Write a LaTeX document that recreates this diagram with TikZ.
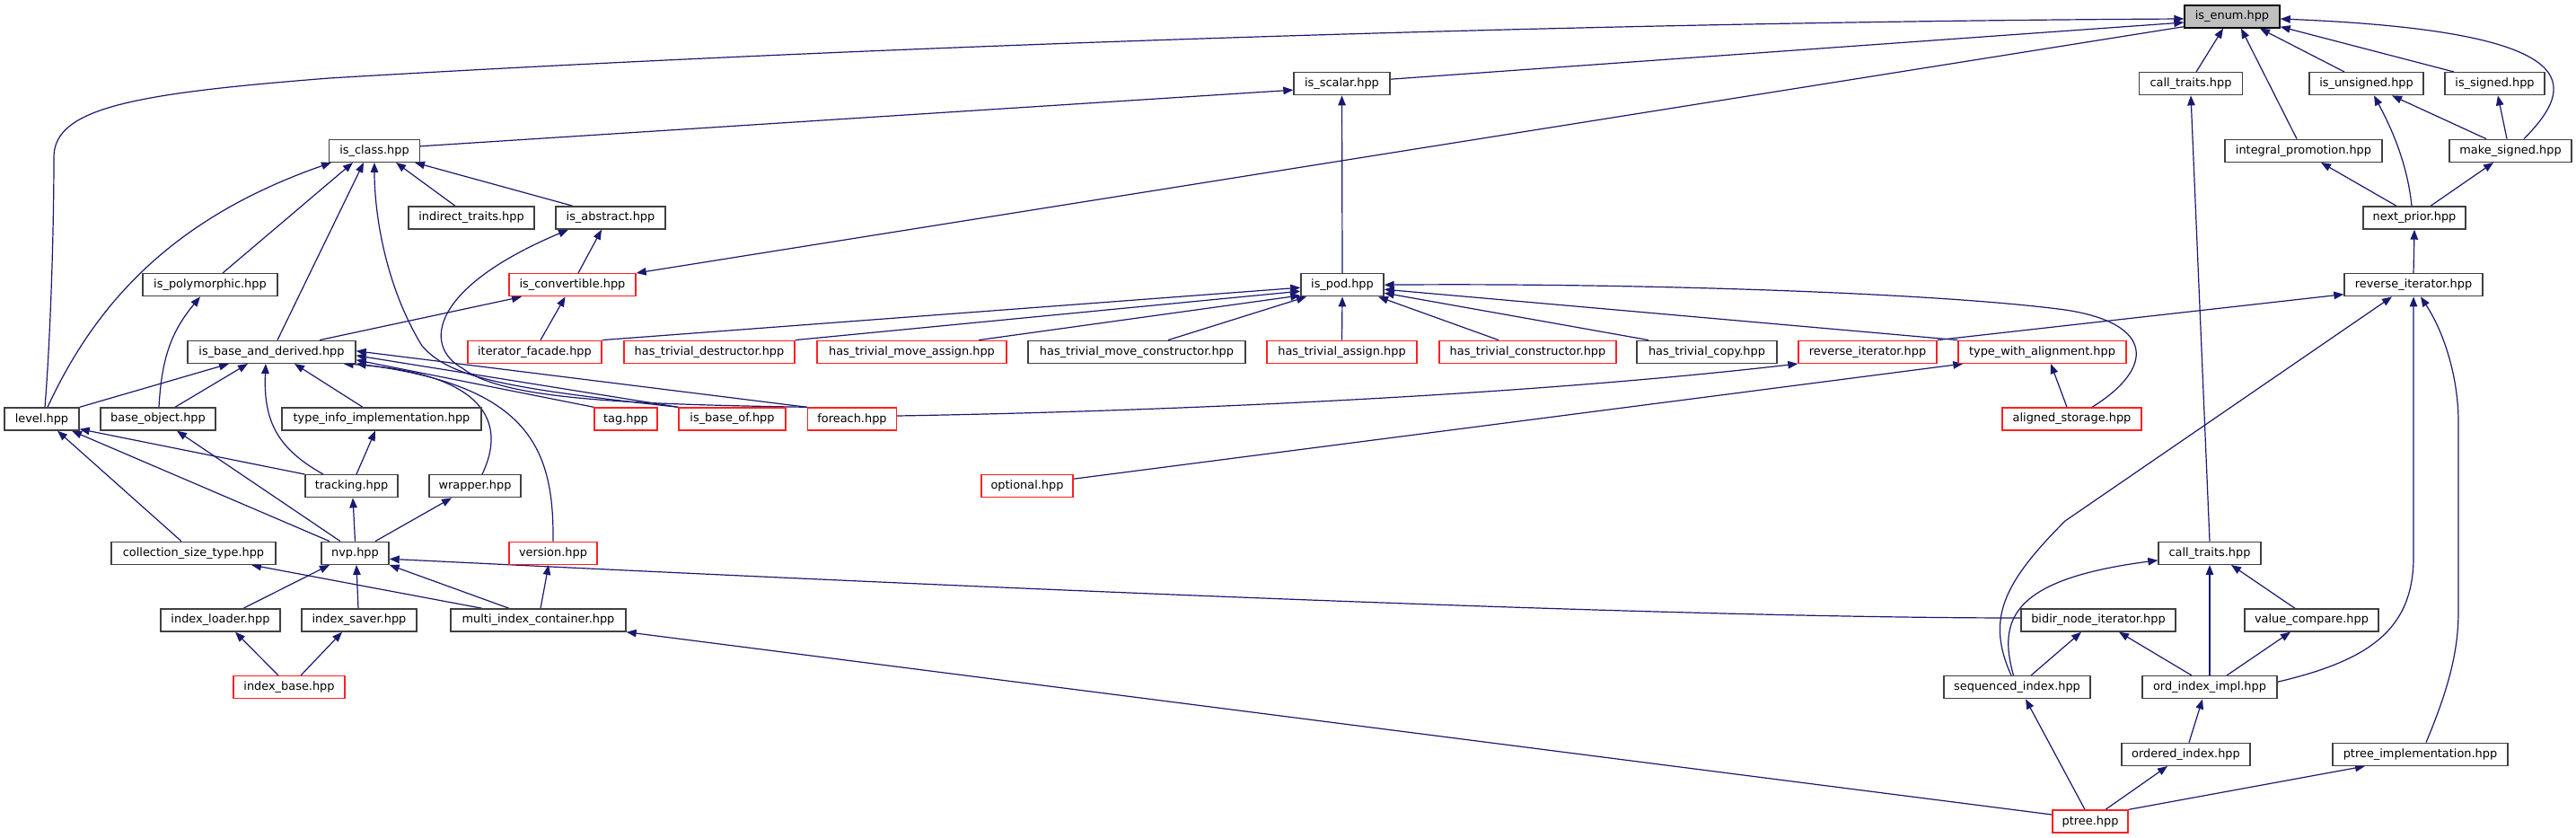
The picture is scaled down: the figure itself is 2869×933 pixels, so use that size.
\documentclass[tikz,border=0pt]{standalone}
\usepackage{fontspec}
\setmainfont{DejaVu Sans}
\usetikzlibrary{arrows.meta}
\definecolor{edgeblue}{HTML}{191970}
\definecolor{greyA}{HTML}{404040}
\definecolor{greyB}{HTML}{BFBFBF}
\definecolor{redbd}{HTML}{FF2020}
\pgfdeclarelayer{bg}
\pgfsetlayers{bg,main}
\tikzset{
  box/.style={draw=greyA, line width=1.4pt, fill=white, minimum height=25pt, inner sep=0pt,
              font=\fontsize{12.9}{15}\selectfont, anchor=center},
  rbox/.style={box, draw=redbd},
  arr/.style={draw=edgeblue, line width=1.2pt, -{Triangle[length=11pt,width=8.5pt]}}
}
\begin{document}
\begin{tikzpicture}[x=1pt,y=-1pt]
\useasboundingbox (0,0) rectangle (2869,933);
% rows
\node[box,minimum width=106pt,fill=greyB,draw=black] (isenum) at (2486,18.5) {is\_enum.hpp};
\node[box,minimum width=107pt] (isscalar) at (1494.5,93.2) {is\_scalar.hpp};
\node[box,minimum width=115pt] (calltraitsA) at (2440,93.2) {call\_traits.hpp};
\node[box,minimum width=127pt] (isunsigned) at (2635.5,93.2) {is\_unsigned.hpp};
\node[box,minimum width=111pt] (issigned) at (2778.5,93.2) {is\_signed.hpp};
\node[box,minimum width=101pt] (isclass) at (417,167.8) {is\_class.hpp};
\node[box,minimum width=175pt] (integralpromotion) at (2565.5,167.8) {integral\_promotion.hpp};
\node[box,minimum width=136pt] (makesigned) at (2796,167.8) {make\_signed.hpp};
\node[box,minimum width=140pt] (indirecttraits) at (525,242.5) {indirect\_traits.hpp};
\node[box,minimum width=122pt] (isabstract) at (680,242.5) {is\_abstract.hpp};
\node[box,minimum width=114pt] (nextprior) at (2689,242.5) {next\_prior.hpp};
\node[box,minimum width=150pt] (ispolymorphic) at (234,317.2) {is\_polymorphic.hpp};
\node[rbox,minimum width=141pt] (isconvertible) at (637.5,317.2) {is\_convertible.hpp};
\node[box,minimum width=92pt] (ispod) at (1495,317.2) {is\_pod.hpp};
\node[box,minimum width=154pt] (reviterB) at (2688,317.2) {reverse\_iterator.hpp};
\node[box,minimum width=187pt] (ibd) at (302.5,391.8) {is\_base\_and\_derived.hpp};
\node[rbox,minimum width=149pt] (iteratorfacade) at (595.5,391.8) {iterator\_facade.hpp};
\node[rbox,minimum width=190pt] (htdestructor) at (790,391.8) {has\_trivial\_destructor.hpp};
\node[rbox,minimum width=211pt] (htmoveassign) at (1015.5,391.8) {has\_trivial\_move\_assign.hpp};
\node[box,minimum width=242pt] (htmoveconstructor) at (1266,391.8) {has\_trivial\_move\_constructor.hpp};
\node[rbox,minimum width=167pt] (htassign) at (1494.5,391.8) {has\_trivial\_assign.hpp};
\node[rbox,minimum width=197pt] (htconstructor) at (1701.5,391.8) {has\_trivial\_constructor.hpp};
\node[box,minimum width=156pt] (htcopy) at (1901,391.8) {has\_trivial\_copy.hpp};
\node[rbox,minimum width=154pt] (reviterR) at (2080,391.8) {reverse\_iterator.hpp};
\node[rbox,minimum width=187pt] (typewithalignment) at (2274.5,391.8) {type\_with\_alignment.hpp};
\node[box,minimum width=83pt] (level) at (46.5,466.5) {level.hpp};
\node[box,minimum width=128pt] (baseobject) at (176,466.5) {base\_object.hpp};
\node[box,minimum width=222pt] (typeinfoimpl) at (425,466.5) {type\_info\_implementation.hpp};
\node[rbox,minimum width=70pt] (tag) at (697,466.5) {tag.hpp};
\node[rbox,minimum width=119pt] (isbaseof) at (815.5,466.5) {is\_base\_of.hpp};
\node[rbox,minimum width=99pt] (foreach) at (949,466.5) {foreach.hpp};
\node[rbox,minimum width=155pt] (alignedstorage) at (2307.5,466.5) {aligned\_storage.hpp};
\node[box,minimum width=103pt] (tracking) at (391.5,541.2) {tracking.hpp};
\node[box,minimum width=102pt] (wrapper) at (529,541.2) {wrapper.hpp};
\node[rbox,minimum width=102pt] (optional) at (1144,541.2) {optional.hpp};
\node[box,minimum width=183pt] (colsizetype) at (215.5,615.8) {collection\_size\_type.hpp};
\node[box,minimum width=75pt] (nvp) at (395.5,615.8) {nvp.hpp};
\node[rbox,minimum width=98pt] (version) at (616,615.8) {version.hpp};
\node[box,minimum width=114pt] (calltraitsB) at (2461,615.8) {call\_traits.hpp};
\node[box,minimum width=133pt] (indexloader) at (245.5,690.5) {index\_loader.hpp};
\node[box,minimum width=128pt] (indexsaver) at (400,690.5) {index\_saver.hpp};
\node[box,minimum width=195pt] (mic) at (599.5,690.5) {multi\_index\_container.hpp};
\node[box,minimum width=172pt] (bidir) at (2337,690.5) {bidir\_node\_iterator.hpp};
\node[box,minimum width=149pt] (valuecompare) at (2574.5,690.5) {value\_compare.hpp};
\node[rbox,minimum width=124pt] (indexbase) at (322,765.2) {index\_base.hpp};
\node[box,minimum width=163pt] (seqindex) at (2246.5,765.2) {sequenced\_index.hpp};
\node[box,minimum width=150pt] (ordindeximpl) at (2461,765.2) {ord\_index\_impl.hpp};
\node[box,minimum width=143pt] (orderedindex) at (2434.5,839.8) {ordered\_index.hpp};
\node[box,minimum width=195pt] (ptreeimpl) at (2695.5,839.8) {ptree\_implementation.hpp};
\node[rbox,minimum width=84pt] (ptree) at (2328,914.5) {ptree.hpp};

\begin{pgfonlayer}{bg}
\fill[white] (0,0) rectangle (2869,933);
% into is_enum
\draw[arr] ([xshift=3.5pt]level.north) .. controls (56,380) and (60,260) .. (60,175) .. controls (60,120) and (150,104) .. (367,87) .. controls (900,55) and (1700,25) .. ([yshift=-2.5pt]isenum.west);
\draw[arr] ([yshift=5pt]isscalar.east) -- ([yshift=-6.5pt]isenum.west);
\draw[arr] ([yshift=2pt]isenum.south west) -- (isconvertible.north east);
\draw[arr] ([xshift=6pt]calltraitsA.north) -- ([xshift=-10pt]isenum.south);
\draw[arr] ([xshift=-7.5pt]integralpromotion.north) -- ([xshift=10pt]isenum.south);
\draw[arr] ([xshift=-24.5pt]isunsigned.north) -- ([xshift=31pt]isenum.south);
\draw[arr] ([xshift=-45.5pt]issigned.north) -- ([yshift=2pt]isenum.south east);
\draw[arr] ([xshift=15pt]makesigned.north) .. controls (2870,95) and (2885,35) .. ([yshift=-2.5pt]isenum.east);
% right upper
\draw[arr] ([xshift=-27pt]makesigned.north) -- ([xshift=28.5pt]isunsigned.south);
\draw[arr] ([xshift=-3pt]nextprior.north) .. controls (2681,180) and (2662,140) .. ([xshift=8.5pt]isunsigned.south);
\draw[arr] ([xshift=-4pt]makesigned.north) -- ([xshift=3.5pt]issigned.south);
\draw[arr] ([xshift=-20pt]nextprior.north) -- ([xshift=19.5pt]integralpromotion.south);
\draw[arr] ([xshift=18pt]nextprior.north) -- ([xshift=-19pt]makesigned.south);
\draw[arr] (reviterB.north) -- (nextprior.south);
\draw[arr] (calltraitsB.north) -- (calltraitsA.south);
% is_scalar
\draw[arr] ([yshift=5pt]isclass.east) -- ([yshift=-7pt]isscalar.west);
\draw[arr] (ispod.north) -- (isscalar.south);
% is_class
\draw[arr] ([xshift=6.5pt]level.north) .. controls (110,330) and (200,240) .. ([xshift=-48pt]isclass.south);
\draw[arr] ([xshift=14pt]ispolymorphic.north) -- ([xshift=-24pt]isclass.south);
\draw[arr] ([xshift=6.5pt]ibd.north) -- ([xshift=-12pt]isclass.south);
\draw[arr] (isbaseof.north west) .. controls (560,432) and (500,420) .. (470,385) .. controls (430,320) and (417,240) .. (isclass.south);
\draw[arr] ([xshift=-18pt]indirecttraits.north) -- ([xshift=24pt]isclass.south);
\draw[arr] ([xshift=-42pt]isabstract.north) -- ([xshift=45pt]isclass.south);
% is_abstract
\draw[arr] ([xshift=6.5pt]isconvertible.north) -- ([xshift=-10pt]isabstract.south);
\draw[arr] (foreach.north west) .. controls (700,450) and (560,445) .. (515,410) .. controls (470,385) and (480,320) .. ([xshift=-47pt]isabstract.south);
% is_convertible
\draw[arr] ([xshift=53.5pt]ibd.north) -- ([xshift=-56.5pt]isconvertible.south);
\draw[arr] ([xshift=6.5pt]iteratorfacade.north) -- ([xshift=-8pt]isconvertible.south);
% is_pod
\draw[arr] (iteratorfacade.north east) -- ([yshift=-3pt]ispod.west);
\draw[arr] (htdestructor.north east) -- ([yshift=-7pt]ispod.west);
\draw[arr] ([xshift=74.5pt]htmoveassign.north) -- ([yshift=1.5pt]ispod.south west);
\draw[arr] ([xshift=35pt]htmoveconstructor.north) -- ([xshift=-40pt]ispod.south);
\draw[arr] (htassign.north) -- (ispod.south);
\draw[arr] ([xshift=-32.5pt]htconstructor.north) -- ([xshift=40pt]ispod.south);
\draw[arr] ([xshift=-65pt]htcopy.north) -- ([yshift=-9pt]ispod.east);
\draw[arr] (typewithalignment.north west) -- ([yshift=-5pt]ispod.east);
\draw[arr] ([xshift=22.5pt]alignedstorage.north) .. controls (2400,410) and (2400,360) .. (2300,345) .. controls (2150,325) and (1800,315) .. (ispod.east);
% reverse iterators, type_with_alignment
\draw[arr] (reviterR.north east) -- ([yshift=-10.5pt]reviterB.west);
\draw[arr] ([yshift=8pt]optional.east) -- ([xshift=6pt]typewithalignment.south west);
\draw[arr] ([xshift=-5.5pt]alignedstorage.north) -- ([xshift=9.5pt]typewithalignment.south);
\draw[arr] ([yshift=3.5pt]foreach.east) .. controls (1300,458) and (1700,440) .. (reviterR.south west);
% is_base_and_derived
\draw[arr] (level.north east) -- ([xshift=-47.5pt]ibd.south);
\draw[arr] ([xshift=19pt]baseobject.north) -- ([xshift=-26.5pt]ibd.south);
\draw[arr] ([xshift=-31.5pt]tracking.north) .. controls (310,500) and (293,470) .. ([xshift=-6.5pt]ibd.south);
\draw[arr] ([xshift=-21pt]typeinfoimpl.north) -- ([xshift=25.5pt]ibd.south);
\draw[arr] ([xshift=8pt]wrapper.north) .. controls (565,470) and (540,415) .. ([xshift=80pt]ibd.south);
\draw[arr] (version.north) .. controls (617,500) and (590,430) .. (ibd.south east);
\draw[arr] (tag.north west) -- ([yshift=-9pt]ibd.east);
\draw[arr] (isbaseof.north west) -- ([yshift=-4pt]ibd.east);
\draw[arr] (foreach.north west) -- ([yshift=1pt]ibd.east);
% level, base_object, tracking
\draw[arr] ([xshift=-13.5pt]colsizetype.north) -- ([xshift=17.5pt]level.south);
\draw[arr] ([xshift=-28.5pt]nvp.north) -- ([xshift=33.5pt]level.south);
\draw[arr] (tracking.north west) -- ([yshift=2pt]level.south east);
\draw[arr] ([xshift=-16.5pt]nvp.north) -- ([xshift=21pt]baseobject.south);
\draw[arr] (nvp.north) -- ([xshift=1.5pt]tracking.south);
\draw[arr] ([xshift=22.5pt]nvp.north) -- ([xshift=-26pt]wrapper.south);
\draw[arr] ([xshift=5.5pt]tracking.north) -- ([xshift=-7pt]typeinfoimpl.south);
\draw[arr] ([xshift=1pt]baseobject.north) .. controls (180,400) and (190,370) .. ([xshift=-11pt]ispolymorphic.south);
% nvp
\draw[arr] ([xshift=25.5pt]indexloader.north) -- ([xshift=-28.5pt]nvp.south);
\draw[arr] ([xshift=-1pt]indexsaver.north) -- ([xshift=1.5pt]nvp.south);
\draw[arr] ([xshift=-32.5pt]mic.north) -- (nvp.south east);
\draw[arr] ([yshift=2.5pt]bidir.west) .. controls (1800,688) and (900,645) .. ([yshift=-6.5pt]nvp.east);
\draw[arr] ([xshift=-62.5pt]mic.north) -- ([xshift=64.5pt]colsizetype.south);
\draw[arr] ([xshift=2.5pt]mic.north) -- ([xshift=-5pt]version.south);
\draw[arr] ([xshift=-12pt]indexbase.north) -- ([xshift=16.5pt]indexloader.south);
\draw[arr] ([xshift=13pt]indexbase.north) -- ([xshift=-19pt]indexsaver.south);
\draw[arr] ([yshift=7.5pt]ptree.west) -- (mic.south east);
% right lower
\draw[arr] ([xshift=-6.5pt]seqindex.north) .. controls (2212,690) and (2230,650) .. (2300,580) -- ([xshift=-24pt]reviterB.south);
\draw[arr] ([xshift=-4pt]seqindex.north) .. controls (2225,690) and (2240,645) .. ([yshift=-8pt]calltraitsB.west);
\draw[arr] ([xshift=15.5pt]seqindex.north) -- ([xshift=-19pt]bidir.south);
\draw[arr] ([xshift=-20pt]ordindeximpl.north) -- ([xshift=23pt]bidir.south);
\draw[arr] (ordindeximpl.north) -- (calltraitsB.south);
\draw[arr] ([xshift=19pt]ordindeximpl.north) -- ([xshift=-23.5pt]valuecompare.south);
\draw[arr] ([xshift=-18.5pt]valuecompare.north) -- ([xshift=24pt]calltraitsB.south);
\draw[arr] ([yshift=6pt]ordindeximpl.east) .. controls (2640,735) and (2688,700) .. (2688,620) -- (reviterB.south);
\draw[arr] ([xshift=6.5pt]ptreeimpl.north) .. controls (2730,760) and (2738,720) .. (2738,680) -- (2738,470) .. controls (2738,420) and (2722,370) .. ([xshift=8pt]reviterB.south);
\draw[arr] ([xshift=3.5pt]orderedindex.north) -- ([xshift=-8pt]ordindeximpl.south);
\draw[arr] ([xshift=-6pt]ptree.north) -- ([xshift=9.5pt]seqindex.south);
\draw[arr] ([xshift=17pt]ptree.north) -- ([xshift=-20.5pt]orderedindex.south);
\draw[arr] (ptree.north east) -- ([xshift=-61.5pt]ptreeimpl.south);
\end{pgfonlayer}
\end{tikzpicture}
\end{document}
